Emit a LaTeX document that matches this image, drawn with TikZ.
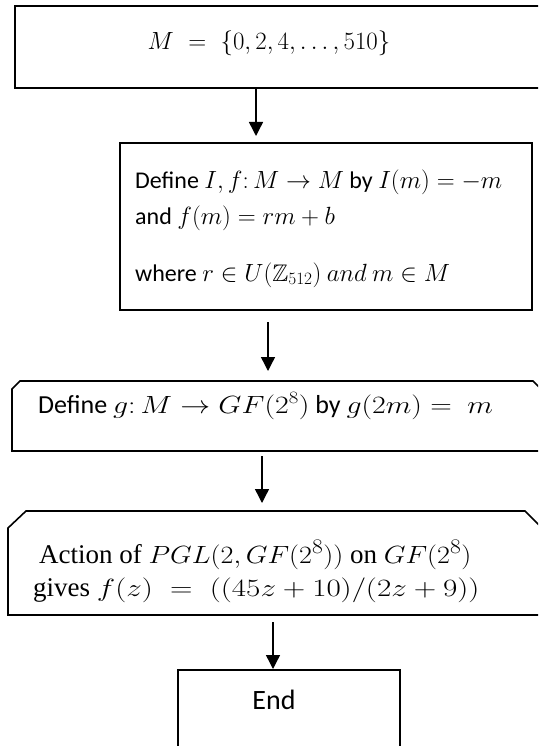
\documentclass[tikz,border=0pt]{standalone}
\usepackage{amssymb}
\usepackage{graphicx}
\usepackage{fontspec}
\setmainfont{Liberation Serif}
\newfontfamily\calfont{Carlito}
\usetikzlibrary{arrows.meta}
\newcommand\wmath[3]{{\fontsize{#1}{#1}\selectfont\scalebox{#2}[1]{$#3$}}}
\begin{document}
\begin{tikzpicture}[x=1pt,y=-1pt,
  boxline/.style={line width=1.6pt},
  flow/.style={line width=1.4pt,-{Triangle[length=14pt,width=14pt]}},
  txt/.style={inner sep=0pt,font=\fontsize{30}{34}\selectfont},
  ctxt/.style={inner sep=0pt,font=\fontsize{24}{30}\selectfont\calfont},
  dtxt/.style={inner sep=0pt,font=\fontsize{26}{30}\selectfont\calfont},
  etxt/.style={inner sep=0pt,font=\fontsize{28}{30}\selectfont\calfont},
  ttxt/.style={inner sep=0pt,font=\fontsize{27}{32}\selectfont}]
\useasboundingbox (0,0) rectangle (538,746);
\clip (0,0) rectangle (538,746);
% box 1
\draw[boxline] (15,6) rectangle (548,88);
\node[txt,anchor=base] (t1) at (269,50) {$M\ =\ \{0,2,4,\ldots,510\}$};
\coordinate (b1) at (256,88);
\coordinate (a1) at (256,136);
% box 2
\draw[boxline] (120,143) rectangle (532,310);
\node[ctxt,anchor=base west] (t2a) at (135,189) {Define $I,f\colon M\rightarrow M$ by $I(m)=-m$};
\node[ctxt,anchor=base west] (t2b) at (135,224) {and $f(m)=rm+b$};
\node[ctxt,anchor=base west] (t2c) at (135,281) {where $r\in U(\mathbb{Z}_{512})\ and\ m\in M$};
\coordinate (b2) at (268,322);
\coordinate (a2) at (268,371);
% box 3
\draw[boxline] (12,389) -- (20,381) -- (533,381) -- (542,390) -- (542,451) -- (12,451) -- cycle;
\node[dtxt,anchor=base west] (t3) at (38,413) {Define \wmath{27}{1.2}{g\colon M\rightarrow GF(2^8)} by \wmath{27}{1.2}{g(2m)=\ m}};
\coordinate (b3) at (262,456);
\coordinate (a3) at (262,503);
% box 4
\draw[boxline] (8,528) -- (26,511) -- (525,511) -- (542,528) -- (542,615) -- (8,615) -- cycle;
\node[ttxt,anchor=base west] (t4a) at (39,563) {Action of \wmath{28}{1.13}{PGL(2,GF(2^8))} on \wmath{28}{1.13}{GF(2^8)}};
\node[ttxt,anchor=base west] (t4b) at (33,596) {gives \wmath{28}{1.25}{f(z)\ =\ ((45z+10)/(2z+9))}};
\coordinate (b4) at (273,622);
\coordinate (a4) at (273,669);
% end box
\draw[boxline] (178,670) rectangle (400,760);
\node[etxt,anchor=base] (t5) at (274,709) {End};
% arrows
\draw[flow] (b1) -- (a1);
\draw[flow] (b2) -- (a2);
\draw[flow] (b3) -- (a3);
\draw[flow] (b4) -- (a4);
\end{tikzpicture}
\end{document}
